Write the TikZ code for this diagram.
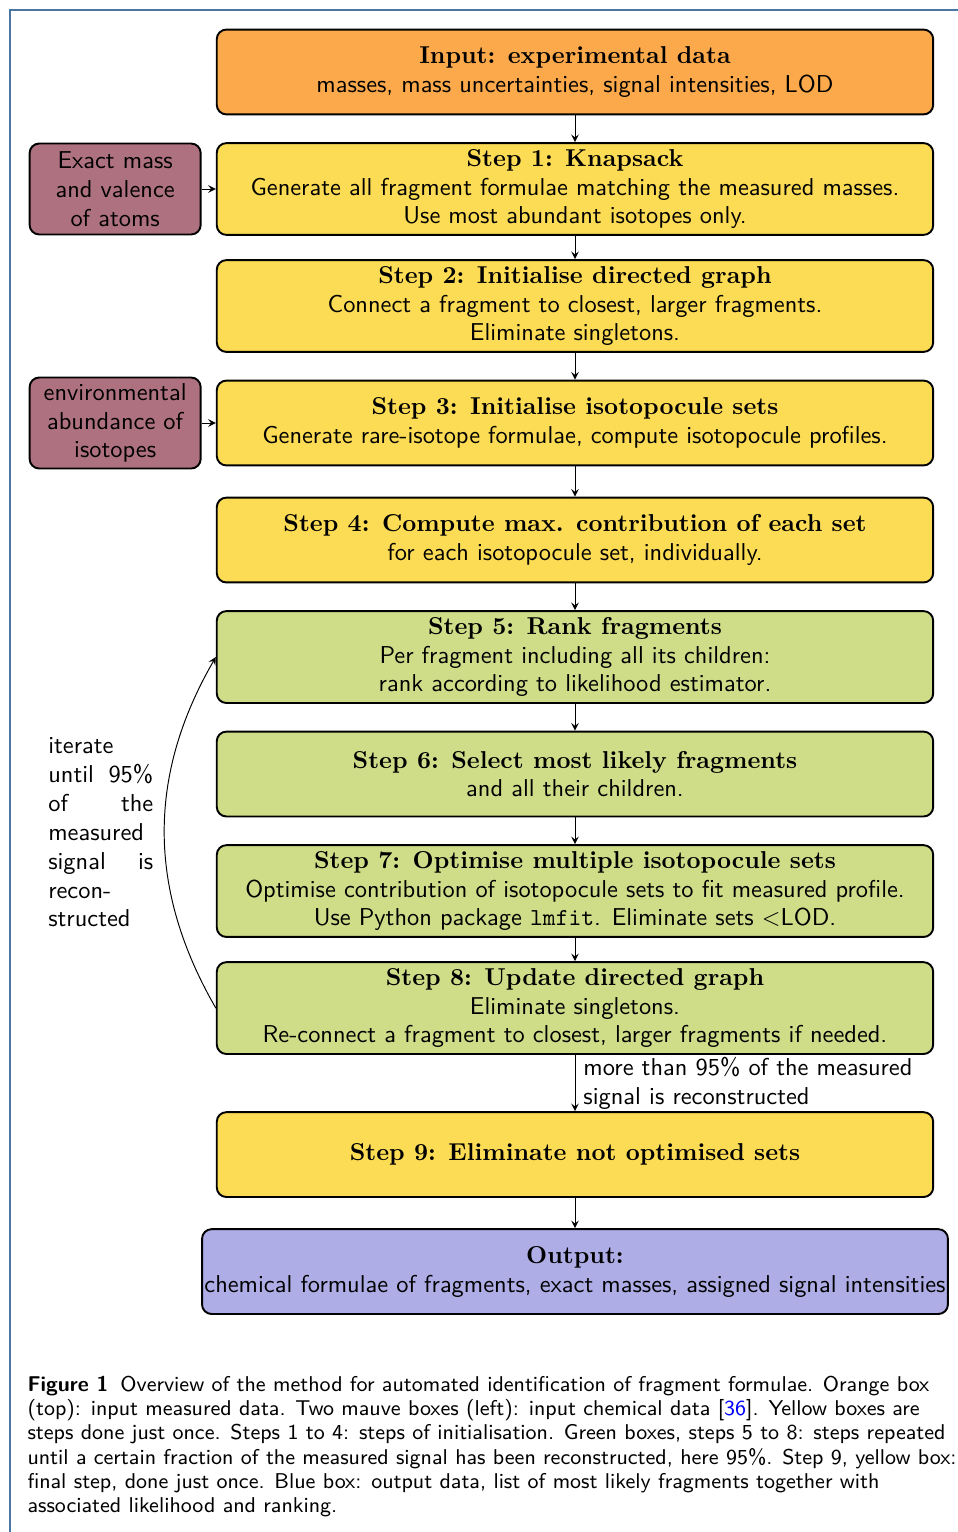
\documentclass[tikz,border=0pt]{standalone}
\usepackage{amsmath}
\usepackage{tikz}
\usetikzlibrary{arrows,positioning}

\definecolor{inorange}{HTML}{FBA94B}
\definecolor{stepyellow}{HTML}{FDDC55}
\definecolor{stepgreen}{HTML}{CFDD89}
\definecolor{chemmauve}{HTML}{AE7180}
\definecolor{outblue}{HTML}{AEADE6}
\definecolor{framecol}{HTML}{4A76A3}

\begin{document}
\begin{tikzpicture}[>=stealth, font=\sffamily\fontsize{10.15}{12}\selectfont,
	stepbox/.style={draw, line width=0.8pt, rounded corners=4pt, align=center, minimum width=10.47cm, minimum height=1.24cm, inner xsep=1pt, inner ysep=2.5pt},
	sidebox/.style={draw, line width=0.8pt, rounded corners=4pt, align=center, fill=chemmauve, minimum width=2.5cm, minimum height=1.33cm, inner sep=1pt}]
		\useasboundingbox (0,0) rectangle (14,-22.389);
		\draw[framecol, line width=0.5pt] (0.146,-22.389) -- (0.146,-0.146) -- (14,-0.146);
		
		\node[stepbox, fill=inorange] (IN) at (8.403,-1.052) {\textbf{\rmfamily Input: experimental data}\\ masses, mass uncertainties, signal intensities, LOD};
		\node[stepbox, fill=stepyellow, below of=IN, node distance=1.71cm](S1){\textbf{\rmfamily Step 1: Knapsack}\\ Generate all fragment formulae matching the measured masses.\\ Use most abundant isotopes only.};
		\node[stepbox, fill=stepyellow, below of=S1, node distance=1.71cm](S2){\textbf{\rmfamily Step 2: Initialise directed graph}\\ Connect a fragment to closest, larger fragments.\\ Eliminate singletons.};
		\node[stepbox, fill=stepyellow, below of=S2, node distance=1.71cm](S3){\textbf{\rmfamily Step 3: Initialise isotopocule sets}\\ Generate rare-isotope formulae, compute isotopocule profiles.};
		\node[stepbox, fill=stepyellow, below of=S3, node distance=1.71cm](S4){\textbf{\rmfamily Step 4: Compute max. contribution of each set}\\ for each isotopocule set, individually.};
		\node[stepbox, fill=stepgreen, below of=S4, node distance=1.71cm](S5){\textbf{\rmfamily Step 5: Rank fragments}\\ Per fragment including all its children:\\ rank according to likelihood estimator.};
		\node[stepbox, fill=stepgreen, below of=S5, node distance=1.71cm](S6){\textbf{\rmfamily Step 6: Select most likely fragments}\\ and all their children.};
		\node[stepbox, fill=stepgreen, below of=S6, node distance=1.71cm](S7){\textbf{\rmfamily Step 7: Optimise multiple isotopocule sets}\\ Optimise contribution of isotopocule sets to fit measured profile.\\ Use Python package \texttt{lmfit}. Eliminate sets $<$LOD.};
		\node[stepbox, fill=stepgreen, below of=S7, node distance=1.71cm](S8){\textbf{\rmfamily Step 8: Update directed graph}\\ Eliminate singletons.\\ Re-connect a fragment to closest, larger fragments if needed.};
		\node[stepbox, fill=stepyellow, below of=S8, node distance=2.141cm](S9){\textbf{\rmfamily Step 9: Eliminate not optimised sets}};
		\node[stepbox, fill=outblue, below of=S9, node distance=1.71cm](OUT){\textbf{\rmfamily Output:}\\ chemical formulae of fragments, exact masses, assigned signal intensities};
		
		\draw[->] (IN) -- (S1);
		\draw[->] (S1) -- (S2);
		\draw[->] (S2) -- (S3);
		\draw[->] (S3) -- (S4);
		\draw[->] (S4) -- (S5);
		\draw[->] (S5) -- (S6);
		\draw[->] (S6) -- (S7);
		\draw[->] (S7) -- (S8);
		\draw[->] (S8) -- node[right, align=left](DONE){more than 95\% of the measured\\ signal is reconstructed} (S9);
		\draw[->] (S9) -- (OUT);
		
		\node[sidebox, left of=S1, node distance=6.72cm](EM){Exact mass\\ and valence\\ of atoms};
		\node[sidebox, left of=S3, node distance=6.72cm](EA){environmental\\ abundance of\\ isotopes};
		\draw[->] (EM) -- (S1);
		\draw[->] (EA) -- (S3);
		
		% loop over steps 5 to 8
		\draw[->] (S8.west) to[bend left=30] (S5.west);
		\coordinate[below of=S6, node distance=0.855cm](M67);
		\node[left of=M67, node distance=6.93cm, text width=1.534cm, align=justify, inner sep=0](IT){\tolerance=10000 iterate until 95\% of the measured signal is recon\-structed};
		
		\node[anchor=north west, inner sep=0, align=left, font=\sffamily\fontsize{8.9}{10}\selectfont](CAP) at (0.395,-20.11){\textbf{Figure 1}\hspace{5pt}Overview of the method for automated identification of fragment formulae. Orange box\\
			(top): input measured data. Two mauve boxes (left): input chemical data [\textcolor{blue}{36}]. Yellow boxes are\\
			steps done just once. Steps 1 to 4: steps of initialisation. Green boxes, steps 5 to 8: steps repeated\\
			until a certain fraction of the measured signal has been reconstructed, here 95\%. Step 9, yellow box:\\
			final step, done just once. Blue box: output data, list of most likely fragments together with\\
			associated likelihood and ranking.};
\end{tikzpicture}
\end{document}
